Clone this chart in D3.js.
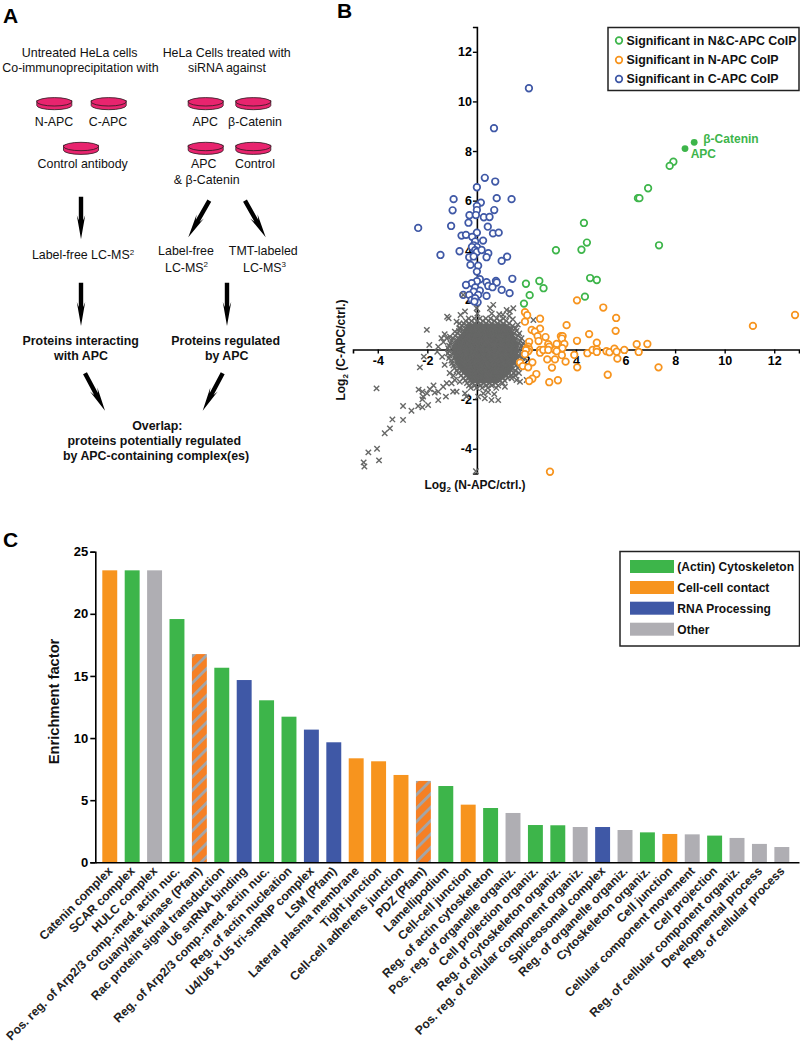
<!DOCTYPE html>
<html><head><meta charset="utf-8">
<style>html,body{margin:0;padding:0;background:#fff}svg{display:block}text{font-family:"Liberation Sans",Arial,sans-serif;fill:#111}</style>
<script src="https://cdn.jsdelivr.net/npm/d3@7"></script></head><body><div id="c"></div>
<script>
// ---------- Panel B data (log2 N-APC/ctrl, log2 C-APC/ctrl)
const bluePoints=[[2.1,10.53],[.69,8.92],[.32,6.92],[.74,6.77],[0,6.54],[-.94,6.06],[.8,6.1],[1.4,6.06],[.16,5.92],[0,5.79],[-.98,5.61],[.7,5.62],[0,5.62],[-.3,5.41],[-.04,5.42],[.28,5.33],[.51,5.34],[-.34,5.11],[-1.04,4.98],[-2.37,4.9],[.44,4.95],[.65,4.68],[.88,4.71],[0,4.71],[-.62,4.59],[-.44,4.62],[-.19,4.54],[.25,4.39],[-.07,4.35],[-.13,4.2],[0,4.13],[-.2,4.13],[-.07,4],[0,3.93],[.19,4.01],[-.7,3.96],[-1.47,3.81],[.46,3.88],[-.31,3.72],[.39,3.72],[1.22,3.74],[1,3.57],[-.13,3.75],[-.26,3.41],[.05,3.38],[0,3.14],[1.43,2.85],[.12,2.83],[0,2.75],[-.21,2.67],[-.44,2.6],[.39,2.71],[.77,2.76],[.8,2.7],[.46,2.56],[.63,2.51],[1,2.4],[1.32,2.27],[-.07,2.5],[.12,2.37],[-.13,2.33],[-.55,2.2],[-.31,2.2],[.05,2.2],[.39,2.16],[-.21,2],[.03,1.9],[-.07,2.07],[-.1,1.93]];
const orangePoints=[[12.84,1.39],[11.14,.95],[4.04,1.98],[5.1,1.69],[5.62,1.27],[5.6,.75],[3.62,.98],[2.55,1.24],[1.94,1.5],[2.03,1.38],[1.94,1.12],[2.55,.84],[2.21,.79],[2.34,.72],[2.77,.5],[2.45,.54],[2.49,.34],[2.11,.31],[3.39,.54],[3.46,.54],[3.43,.44],[4.53,.62],[4.04,.35],[4.84,.27],[6.45,.21],[6.88,.22],[3.53,.22],[3.22,.22],[2.88,.21],[2.92,.11],[2.07,.11],[2.01,.04],[2.11,0],[2.07,-.07],[1.98,-.03],[1.94,-.19],[2.55,-.02],[2.55,-.13],[2.68,-.02],[2.88,-.02],[3.15,-.02],[3.45,.05],[3.22,-.07],[3.43,-.23],[3.93,-.22],[4.46,-.15],[4.67,-.02],[4.84,0],[4.84,-.1],[5.23,-.07],[5.35,-.11],[5.55,.03],[5.64,-.09],[5.95,-.02],[6.53,-.1],[5.67,-.37],[2.84,-.4],[3.15,-.4],[3.58,-.49],[2.24,-.52],[3.03,-.73],[4.05,-.72],[7.33,-.72],[1.74,-.53],[1.85,-.67],[2.07,-.72],[2.4,-.99],[2.24,-1.18],[2.11,-1.27],[2.92,-1.32],[3.27,-1.24],[5.28,-1.02],[2.95,-4.93]];
const greenPoints=[[7.93,7.57],[7.78,7.4],[6.91,6.5],[6.5,6.1],[6.56,6.1],[4.32,5.1],[4.44,4.31],[4.22,4.02],[7.35,4.2],[3.19,4],[1.98,2.65],[2.52,2.76],[2.69,2.47],[2.13,2.19],[1.9,1.85],[4.36,2.13],[4.57,2.88],[4.84,2.8]];
const highlightPoints=[[8.77,8.35],[8.4,8.1]];
const highlightNames=["β-Catenin","APC"];
const grayOutliers=[[-2.02,.79],[-1.14,1.26],[-1.2,1.32],[-.82,1.12],[-.66,1.39],[-.48,1.53],[-.71,.85],[-.89,.72],[-1.92,.18],[-1.56,.11],[-1.43,.45],[-1.22,.45],[-1.09,.52],[-2.14,-.29],[-2.3,-.72],[-1.6,-.09],[-4.05,-1.57],[-2.98,-2.28],[-2.64,-2.47],[-2.37,-2.28],[-2.2,-2.33],[-1.97,-2.24],[-2.17,-1.9],[-2.2,-2.01],[-2.01,-1.77],[-1.7,-1.74],[-1.56,-1.7],[-1.36,-1.5],[-1.22,-1.36],[-1.02,-1.36],[-.89,-1.23],[-.69,-1.3],[-1.25,-1.9],[-1.56,-2.04],[-.96,-1.7],[-.82,-1.7],[-.48,-1.77],[-.42,-1.9],[.05,-1.9],[.26,-1.77],[.32,-1.97],[.59,-2.04],[.86,-2.04],[1.13,-1.5],[1.4,-1.16],[1.6,-1.23],[1.74,-1.3],[-2.98,-2.84],[-3.41,-2.82],[-3.51,-3.18],[-3.72,-3.38],[-4.03,-4],[-4.38,-4.15],[-3.95,-4.47],[-4.57,-4.55],[-4.54,-4.72],[-.04,-4.91],[.66,1.8],[.53,1.66],[1.47,1.66],[1.2,1.59],[1.33,1.53],[-.01,1.66],[-.55,2.2],[2.28,1.19],[2.01,-1.23],[2.08,-.69],[1.94,-.36],[.02,1.45],[.6,1.45],[.9,1.42],[1.05,1.4],[1.3,1.35],[-1.3,.62],[-1.35,.3],[-1.4,-.3],[-1.3,-.62],[-1.1,-.95],[-.95,-1.05],[-.7,1.05],[1.65,1.0],[1.45,1.22],[1.7,-.95],[1.55,-1.05],[-1.75,-1.45],[-2.35,-1.62],[-2.2,-1.7],[-1.9,-1.6],[.45,-1.72],[.7,-1.8]];
const grayRows=[
[1.25,[-.33,-.1,.12,.36,.55,.8,1.07]],
[1.15,[-.45,-.22,0,.24,.47,.7,.93,1.18]],
[1.05,[-.54,-.31,-.08,.15,.38,.6,.84,1.07,1.3]],
[.95,[-.6,-.38,-.15,.08,.3,.53,.77,1,1.23,1.44]],
[.85,[-.66,-.43,-.2,.03,.26,.49,.72,.95,1.18,1.41,1.56]],
[.75,[-.72,-.5,-.27,-.04,.19,.42,.65,.88,1.11,1.34,1.6]],
[.65,[-.78,-.55,-.32,-.09,.14,.37,.6,.83,1.06,1.29,1.5,1.71]],
[.55,[-.88,-.64,-.41,-.18,.05,.28,.51,.74,.97,1.2,1.43,1.66]],
[.45,[-.96,-.73,-.5,-.27,-.04,.19,.42,.65,.88,1.11,1.34,1.57,1.8]],
[.35,[-1.02,-.79,-.56,-.33,-.1,.13,.36,.59,.82,1.05,1.28,1.51,1.74]],
[.25,[-1.07,-.84,-.61,-.38,-.15,.08,.31,.54,.77,1,1.23,1.46,1.69,1.86]],
[.15,[-1.12,-.89,-.66,-.43,-.2,.03,.26,.49,.72,.95,1.18,1.41,1.64,1.82]],
[.05,[-1.16,-.93,-.7,-.47,-.24,-.01,.22,.45,.68,.91,1.14,1.37,1.6,1.83]],
[-.05,[-1.13,-.9,-.67,-.44,-.21,.02,.25,.48,.71,.94,1.17,1.4,1.63,1.88]],
[-.15,[-1.17,-.94,-.71,-.48,-.25,-.02,.21,.44,.67,.9,1.13,1.36,1.59,1.82]],
[-.25,[-1.1,-.87,-.64,-.41,-.18,.05,.28,.51,.74,.97,1.2,1.43,1.66,1.86]],
[-.35,[-1.12,-.89,-.66,-.43,-.2,.03,.26,.49,.72,.95,1.18,1.41,1.64,1.84]],
[-.45,[-1.03,-.8,-.57,-.34,-.11,.12,.35,.58,.81,1.04,1.27,1.5,1.73]],
[-.55,[-1,-.77,-.54,-.31,-.08,.15,.38,.61,.84,1.07,1.3,1.53,1.76]],
[-.65,[-.95,-.72,-.49,-.26,-.03,.2,.43,.66,.89,1.12,1.35,1.58]],
[-.75,[-.9,-.67,-.44,-.21,.02,.25,.48,.71,.94,1.17,1.4,1.65]],
[-.85,[-.82,-.59,-.36,-.13,.1,.33,.56,.79,1.02,1.25,1.55]],
[-.95,[-.75,-.52,-.29,-.06,.17,.4,.63,.86,1.09,1.32,1.5]],
[-1.05,[-.64,-.41,-.18,.05,.28,.51,.74,.97,1.2,1.38]],
[-1.15,[-.55,-.32,-.09,.14,.37,.6,.83,1.06,1.25]],
[-1.25,[-.47,-.24,-.01,.22,.45,.68,.91,1.12]],
[-1.35,[-.4,-.17,.06,.29,.52,.75,1.04]],
[-1.45,[-.32,-.09,.14,.37,.6,.86]],
[-1.55,[-.25,-.02,.21,.44,.78]]
];
// ---------- Panel C data
const terms=["Catenin complex","SCAR complex","HULC complex","Pos. reg. of Arp2/3 comp.-med. actin nuc.","Guanylate kinase (Pfam)","Rac protein signal transduction","U6 snRNA binding","Reg. of Arp2/3 comp.-med. actin nuc.","Reg. of actin nucleation","U4/U6 x U5 tri-snRNP complex","LSM (Pfam)","Lateral plasma membrane","Tight junction","Cell-cell adherens junction","PDZ (Pfam)","Lamellipodium","Cell-cell junction","Reg. of actin cytoskeleton","Pos. reg. of organelle organiz.","Cell projection organiz.","Reg. of cytoskeleton organiz.","Pos. reg. of cellular component organiz.","Spliceosomal complex","Reg. of organelle organiz.","Cytoskeleton organiz.","Cell junction","Cellular component movement","Cell projection","Reg. of cellular component organiz.","Developmental process","Reg. of cellular process"];
const enrichment=[23.5,23.5,23.5,19.58,16.76,15.66,14.67,13.04,11.72,10.68,9.66,8.37,8.13,7.03,6.55,6.14,4.64,4.37,3.97,3.0,2.98,2.84,2.84,2.6,2.41,2.28,2.25,2.15,1.96,1.48,1.23];
const termGroup=["contact","actin","other","actin","hatch","actin","rna","actin","actin","rna","rna","contact","contact","contact","hatch","actin","contact","actin","other","actin","actin","other","rna","other","actin","contact","other","actin","other","other","other"];
const groupColors={actin:"#3DB54A",contact:"#F7941E",rna:"#3F58A6",other:"#AFAEB3",hatch:"url(#hatch)"};
const legendB=[["Significant in N&C-APC CoIP","#3DB54A"],["Significant in N-APC CoIP","#F7941E"],["Significant in C-APC CoIP","#3F58A6"]];
const legendC=[["(Actin) Cytoskeleton","#3DB54A"],["Cell-cell contact","#F7941E"],["RNA Processing","#3F58A6"],["Other","#AFAEB3"]];

const svg=d3.select("#c").append("svg").attr("width",800).attr("height",1046);
const defs=svg.append("defs");
const pat=defs.append("pattern").attr("id","hatch").attr("patternUnits","userSpaceOnUse").attr("width",9.5).attr("height",9.5).attr("patternTransform","rotate(45) translate(0,2)");
pat.append("rect").attr("width",9.5).attr("height",9.5).attr("fill","#F58025");
pat.append("rect").attr("x",0).attr("width",2.8).attr("height",9.5).attr("fill","#A3A5A8");

// ---------- Panel letters
[["A",3,23],["B",337,18],["C",3,547]].forEach(d=>svg.append("text").attr("x",d[1]).attr("y",d[2]).attr("font-size",21).attr("font-weight",700).style("fill","#000").text(d[0]));

// ---------- Panel A
const A=svg.append("g");
function label(x,y,t,bold,sup){const e=A.append("text").attr("x",x).attr("y",y).attr("text-anchor","middle").attr("font-size",12.4).attr("font-weight",bold?700:400);
 e.append("tspan").text(t);if(sup)e.append("tspan").attr("font-size",8).attr("dy",-4.5).text(sup);}
[[79.7,56.7,"Untreated HeLa cells"],[80.5,71.7,"Co-immunoprecipitation with"],[226.7,56.7,"HeLa Cells treated with"],[227,71.7,"siRNA against"],
 [54,125.7,"N-APC"],[108,125.7,"C-APC"],[82.7,168,"Control antibody"],[205.3,125.7,"APC"],[255,125.7,"β-Catenin"],[203.7,168,"APC"],[255,168,"Control"],[206.7,184,"& β-Catenin"],
 [186,255,"Label-free"],[263.3,255,"TMT-labeled"]].forEach(d=>label(d[0],d[1],d[2]));
label(83,259,"Label-free LC-MS","","2");label(186.5,271.7,"LC-MS","","2");label(264.5,271.7,"LC-MS","","3");
[[80.7,345,"Proteins interacting"],[81,360,"with APC"],[225.7,345,"Proteins regulated"],[226.7,360,"by APC"],[157.3,430,"Overlap:"],[154.3,445,"proteins potentially regulated"],[156,460,"by APC-containing complex(es)"]].forEach(d=>label(d[0],d[1],d[2],true));
[[54.3,103],[108.7,103],[81,147.7],[205.7,103],[253.3,103],[205.7,147.7],[253.3,147.7]].forEach(([x,y])=>{
 const g=A.append("g").attr("transform",`translate(${x},${y})`);
 g.append("path").attr("d","M-17.5,-2.5V2.5A17.5,4.2 0 0 0 17.5,2.5V-2.5Z").attr("fill","#E8246E").attr("stroke","#2a1a20").attr("stroke-width",.8);
 g.append("ellipse").attr("cy",-1.2).attr("rx",17.5).attr("ry",4.2).attr("fill","#E8246E").attr("stroke","#2a1a20").attr("stroke-width",.8);
});
[[81,196.7,81,239.3],[209.3,200.7,188.3,237.3],[245,200.7,265.7,237.3],[81,282.7,81,326],[227,282.7,227,326],[85,373.3,105,410.7],[222.7,373.3,202.7,410.7]].forEach(([x1,y1,x2,y2])=>{
 const L=Math.hypot(x2-x1,y2-y1),ang=Math.atan2(y2-y1,x2-x1)*180/Math.PI-90;
 A.append("path").attr("transform",`translate(${x1},${y1}) rotate(${ang})`).attr("fill","#000")
  .attr("d",`M-2.2,0H2.2V${L-19}L4.2,${L-24}L0,${L}L-4.2,${L-24}L-2.2,${L-19}Z`);
});

// ---------- Panel B
const bx=d3.scaleLinear().domain([-5,13]).range([353,799]);
const by=d3.scaleLinear().domain([-5,13]).range([473.5,27]);
const B=svg.append("g");
const xAxisB=d3.axisBottom(bx).tickValues([-4,-2,2,4,6,8,10,12]).tickSize(4).tickPadding(3).tickFormat(d=>d);
const yAxisB=d3.axisLeft(by).tickValues([-4,-2,2,4,6,8,10,12]).tickSize(4).tickPadding(1).tickFormat(d=>d);
const gx=B.append("g").attr("transform",`translate(0,${by(0)})`).call(xAxisB);
const gy=B.append("g").attr("transform",`translate(${bx(0)},0)`).call(yAxisB);
[gx,gy].forEach(g=>{g.selectAll(".domain").attr("stroke","#000").attr("stroke-width",1.6);g.selectAll(".tick line").attr("stroke","#000").attr("stroke-width",1.4);g.selectAll("text").attr("font-size",12.5).attr("font-weight",700).attr("font-family",'"Liberation Sans",Arial,sans-serif').style("fill","#000");});
const circles=(pts,col)=>B.append("g").selectAll("circle").data(pts).join("circle").attr("cx",d=>bx(d[0])).attr("cy",d=>by(d[1])).attr("r",3.3).attr("fill","#fff").attr("stroke",col).attr("stroke-width",1.7);
circles(bluePoints,"#3F58A6");
const grayAll=grayOutliers.concat(grayRows.flatMap(([y,xs])=>xs.map(x=>[x,y])));
// solid core of the dense cloud, inside the extent of each row of crosses
B.append("path").datum(grayRows.slice(2,-2)).attr("fill","#666766").attr("d",d3.area().y(d=>by(d[0])).x0(d=>bx(d3.min(d[1])+.15)).x1(d=>bx(d3.max(d[1])-.15)).curve(d3.curveLinear));
B.append("g").selectAll("path").data(grayAll).join("path").attr("transform",d=>`translate(${bx(d[0])},${by(d[1])})`).attr("d","M-2.7,-2.7L2.7,2.7M-2.7,2.7L2.7,-2.7").attr("stroke","#666766").attr("stroke-width",1.4).attr("fill","none");
circles(orangePoints,"#F7941E");
circles(greenPoints,"#3DB54A");
B.append("g").selectAll("circle").data(highlightPoints).join("circle").attr("cx",d=>bx(d[0])).attr("cy",d=>by(d[1])).attr("r",3.4).attr("fill","#3DB54A");
[[703.3,142.7],[690.7,158]].forEach((p,i)=>B.append("text").attr("x",p[0]).attr("y",p[1]).attr("font-size",12).attr("font-weight",700).style("fill","#3DB54A").text(highlightNames[i]));
const xl=B.append("text").attr("x",475).attr("y",489).attr("text-anchor","middle").attr("font-size",12).attr("font-weight",700);
xl.append("tspan").text("Log");xl.append("tspan").attr("font-size",8).attr("dy",3).text("2");xl.append("tspan").attr("dy",-3).text(" (N-APC/ctrl.)");
const yl=B.append("text").attr("transform","translate(345,350) rotate(-90)").attr("text-anchor","middle").attr("font-size",12).attr("font-weight",700);
yl.append("tspan").text("Log");yl.append("tspan").attr("font-size",8).attr("dy",3).text("2");yl.append("tspan").attr("dy",-3).text(" (C-APC/ctrl.)");
B.append("rect").attr("x",608).attr("y",27.5).attr("width",191).attr("height",63).attr("fill","#fff").attr("stroke","#222").attr("stroke-width",1.5);
legendB.forEach((d,i)=>{const y=[40.5,60,79][i];
 B.append("circle").attr("cx",619).attr("cy",y).attr("r",3.3).attr("fill","#fff").attr("stroke",d[1]).attr("stroke-width",1.7);
 B.append("text").attr("x",626.5).attr("y",y+4.2).attr("font-size",12.4).attr("font-weight",700).text(d[0]);});

// ---------- Panel C
const cx=d3.scaleBand().domain(terms).range([102.3,789.3]).paddingInner(1/3).paddingOuter(0);
const cy=d3.scaleLinear().domain([0,25]).range([862.3,551.7]);
const C=svg.append("g");
C.append("g").selectAll("rect").data(terms).join("rect").attr("x",d=>cx(d)).attr("width",cx.bandwidth()).attr("y",(d,i)=>cy(enrichment[i])).attr("height",(d,i)=>cy(0)-cy(enrichment[i])).attr("fill",(d,i)=>groupColors[termGroup[i]]);
const gyC=C.append("g").attr("transform","translate(95.3,0)").call(d3.axisLeft(cy).tickValues([0,5,10,15,20,25]).tickSize(5).tickPadding(2));
gyC.selectAll("text").attr("font-size",13).attr("font-weight",700).attr("font-family",'"Liberation Sans",Arial,sans-serif').style("fill","#000");
gyC.selectAll(".domain,.tick line").attr("stroke","#000").attr("stroke-width",1.6);
const gxC=C.append("g").attr("transform",`translate(0,${cy(0)})`).call(d3.axisBottom(d3.scaleLinear().domain([0,1]).range([95.3,799])).tickValues([]).tickSize(0));
gxC.selectAll(".domain").attr("stroke","#000").attr("stroke-width",1.6);
C.append("g").selectAll("text").data(terms).join("text").attr("transform",d=>`translate(${cx(d)+cx.bandwidth()/2+3.5},${cy(0)+9.5}) rotate(-45)`).attr("text-anchor","end").attr("font-size",12.2).attr("font-weight",700).style("fill","#222").text(d=>d);
C.append("text").attr("transform","translate(59,701.5) rotate(-90)").attr("text-anchor","middle").attr("font-size",14.7).attr("font-weight",700).text("Enrichment factor");
C.append("rect").attr("x",620).attr("y",551.5).attr("width",179.5).attr("height",94.5).attr("fill","#fff").attr("stroke","#222").attr("stroke-width",1.5);
legendC.forEach((d,i)=>{const y=[560,581,601.7,622.7][i];
 C.append("rect").attr("x",630).attr("y",y).attr("width",44).attr("height",13).attr("fill",d[1]);
 C.append("text").attr("x",677.3).attr("y",y+11).attr("font-size",12).attr("font-weight",700).text(d[0]);});
</script></body></html>
